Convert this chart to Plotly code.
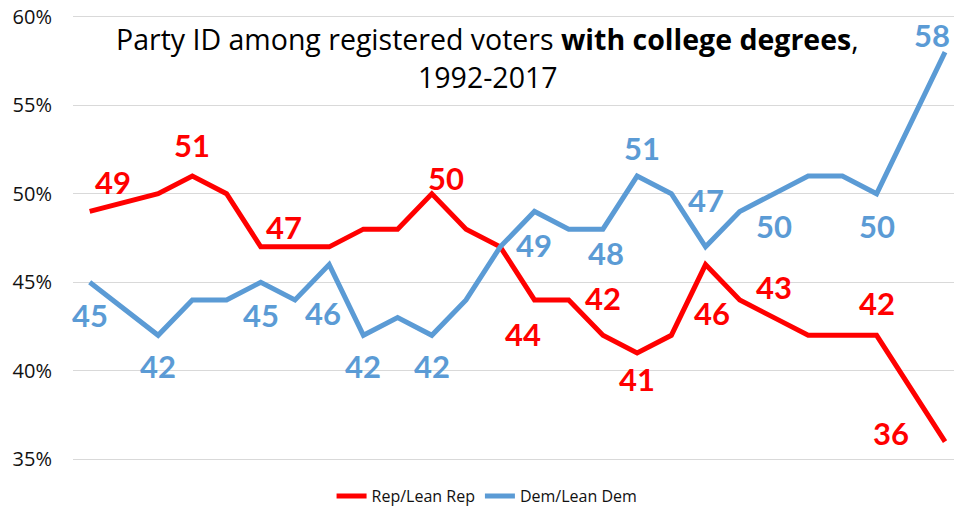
import plotly.graph_objects as go

# Survey years; 1993 and 2016 have no reading, lines bridge those gaps
years = list(range(1992, 2018))

rep_lean_rep = [49, None, 50, 51, 50, 47, 47, 47, 48, 48, 50, 48, 47,
                44, 44, 42, 41, 42, 46, 44, 43, 42, 42, 42, None, 36]
dem_lean_dem = [45, None, 42, 44, 44, 45, 44, 46, 42, 43, 42, 44, 47,
                49, 48, 48, 51, 50, 47, 49, 50, 51, 51, 50, None, 58]

title_line1 = "Party ID among registered voters <b>with college degrees</b>,"
title_line2 = "1992-2017"

REP_COLOR = "#ff0000"
DEM_COLOR = "#5b9bd5"

# Which points get a value label, and the pixel offset of each label
rep_labels = {1992: (23, 29), 1995: (0, 31), 1998: (-11, 20), 2002: (14, 16),
              2005: (-11, -34), 2007: (0, 37), 2008: (0, -26), 2010: (6, -48),
              2012: (0, 31), 2015: (0, 32), 2017: (-54, 9)}
dem_labels = {1992: (0, -33), 1994: (0, -31), 1997: (0, -33), 1999: (-6, -48),
              2000: (0, -31), 2002: (0, -31), 2005: (0, -34), 2007: (3, -24),
              2008: (5, 28), 2010: (0, 47), 2012: (0, -32), 2015: (0, -32),
              2017: (-13, 17)}

fig = go.Figure()
fig.add_trace(go.Scatter(x=years, y=rep_lean_rep, name="Rep/Lean Rep",
                         mode="lines", connectgaps=True,
                         line=dict(color=REP_COLOR, width=5)))
fig.add_trace(go.Scatter(x=years, y=dem_lean_dem, name="Dem/Lean Dem",
                         mode="lines", connectgaps=True,
                         line=dict(color=DEM_COLOR, width=5)))

annotations = []
for values, labels, color in ((rep_lean_rep, rep_labels, REP_COLOR),
                              (dem_lean_dem, dem_labels, DEM_COLOR)):
    for yr, (dx, dy) in labels.items():
        v = values[years.index(yr)]
        annotations.append(dict(
            x=yr, y=v, xref="x", yref="y", text=str(v), showarrow=False,
            xshift=dx, yshift=dy, xanchor="center", yanchor="middle",
            font=dict(family="Lato", size=31, color=color, weight="bold")))

# Two-line chart title, set inside the plot area
title_font = dict(family="Open Sans", size=28.5, color="#000000")
annotations.append(dict(x=0.471, y=0.946, xref="paper", yref="paper",
                        text=title_line1, showarrow=False,
                        xanchor="center", yanchor="middle", font=title_font))
annotations.append(dict(x=0.471, y=0.862, xref="paper", yref="paper",
                        text=title_line2, showarrow=False,
                        xanchor="center", yanchor="middle", font=title_font))

fig.update_layout(
    width=954, height=508,
    margin=dict(l=73, r=0, t=15, b=47, autoexpand=False),
    paper_bgcolor="white", plot_bgcolor="white",
    xaxis=dict(range=[1991.512, 2017.262], showticklabels=False,
               showgrid=False, zeroline=False, showline=False, ticks=""),
    yaxis=dict(range=[34.9, 60.1], dtick=5, tick0=35, ticksuffix="%",
               showgrid=True, gridcolor="#d9d9d9", gridwidth=1,
               zeroline=False, showline=False, ticks="",
               ticklabelstandoff=20,
               tickfont=dict(family="Open Sans", size=20, color="#111111")),
    legend=dict(orientation="h", x=0.470, xanchor="center",
                xref="paper", yref="container",
                y=1 - 496 / 508, yanchor="middle", itemwidth=30,
                font=dict(family="Open Sans", size=16, color="#111111"),
                traceorder="normal"),
    annotations=annotations,
)

fig.write_html("out.html")
